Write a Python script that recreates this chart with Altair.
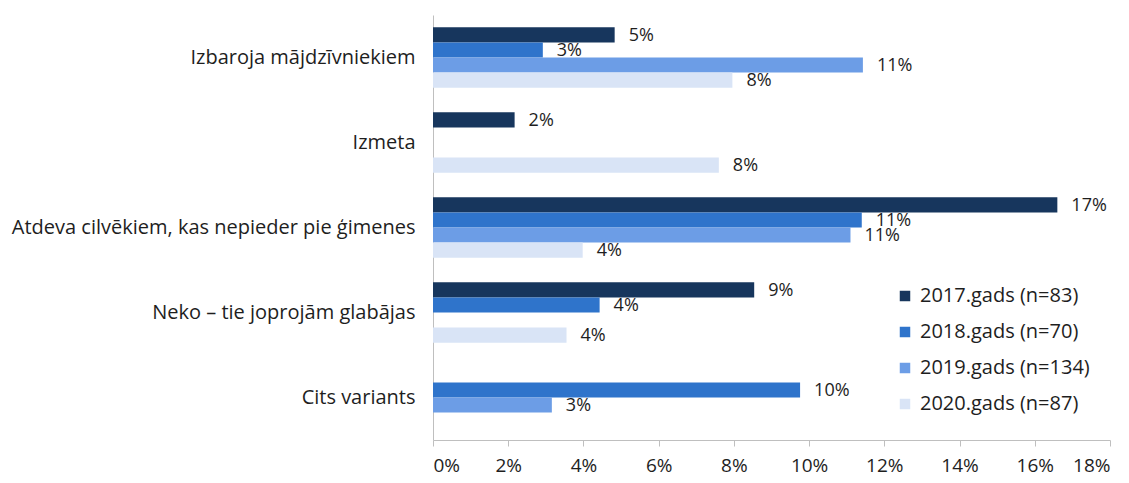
import altair as alt
import pandas as pd

categories = ["Izbaroja mājdzīvniekiem", "Izmeta", "Atdeva cilvēkiem, kas nepieder pie ģimenes",
              "Neko – tie joprojām glabājas", "Cits variants"]
series = ["2017.gads (n=83)", "2018.gads (n=70)", "2019.gads (n=134)", "2020.gads (n=87)"]
colors = ["#17365D", "#2F74CB", "#6C9DE6", "#D9E4F6"]

# values (fractions); None = no bar
v2017 = [0.0483, 0.0217, 0.1660, 0.0854, None]
v2018 = [0.0292, None, 0.1140, 0.0443, 0.0976]
v2019 = [0.1143, None, 0.1110, None, 0.0316]
v2020 = [0.0796, 0.0760, 0.0398, 0.0355, None]

rows = []
for s, vals in zip(series, [v2017, v2018, v2019, v2020]):
    for c, v in zip(categories, vals):
        if v is not None:
            rows.append({"cat": c, "series": s, "value": v})
df = pd.DataFrame(rows)

FONT = "Open Sans"

y = alt.Y("cat:N", sort=categories, title=None,
          scale=alt.Scale(paddingInner=0.29, paddingOuter=0.145),
          axis=alt.Axis(labelFontSize=20, labelColor="#1E1E1E", labelFont=FONT,
                        labelPadding=18, ticks=False, domainColor="#BFBFBF",
                        labelLimit=500))
yoff = alt.YOffset("series:N", sort=series, scale=alt.Scale(domain=series, paddingInner=0, paddingOuter=0))
x = alt.X("value:Q", title=None,
          scale=alt.Scale(domain=[0, 0.18], nice=False),
          axis=alt.Axis(format=".0%", values=[i / 100 for i in range(0, 19, 2)],
                        grid=False, labelFontSize=19, labelColor="#1E1E1E", labelFont=FONT,
                        domainColor="#BFBFBF", tickColor="#BFBFBF", tickSize=6, labelPadding=10))

bars = alt.Chart(df).mark_bar().encode(
    x=x, y=y, yOffset=yoff,
    color=alt.Color("series:N", sort=series,
                    scale=alt.Scale(domain=series, range=colors),
                    legend=alt.Legend(title=None, orient="none", legendX=462, legendY=271,
                                      symbolType="square", symbolSize=110, symbolStrokeWidth=0,
                                      labelFontSize=20, labelFont=FONT, labelColor="#1E1E1E",
                                      labelLimit=400, rowPadding=16, labelOffset=5)),
)

labels = alt.Chart(df).mark_text(align="left", baseline="middle", dx=14, dy=1,
                                 fontSize=18, font=FONT, color="#1E1E1E").encode(
    x="value:Q", y=alt.Y("cat:N", sort=categories), yOffset=yoff,
    text=alt.Text("value:Q", format=".0%"),
)

chart = (bars + labels).properties(
    width=677, height=425,
    autosize=alt.AutoSizeParams(type="none"),
    padding={"left": 425, "top": 7, "right": 10, "bottom": 40},
    background="white",
).configure_view(stroke=None)

chart.save("out.html", embed_options={"renderer": "svg", "actions": False})
